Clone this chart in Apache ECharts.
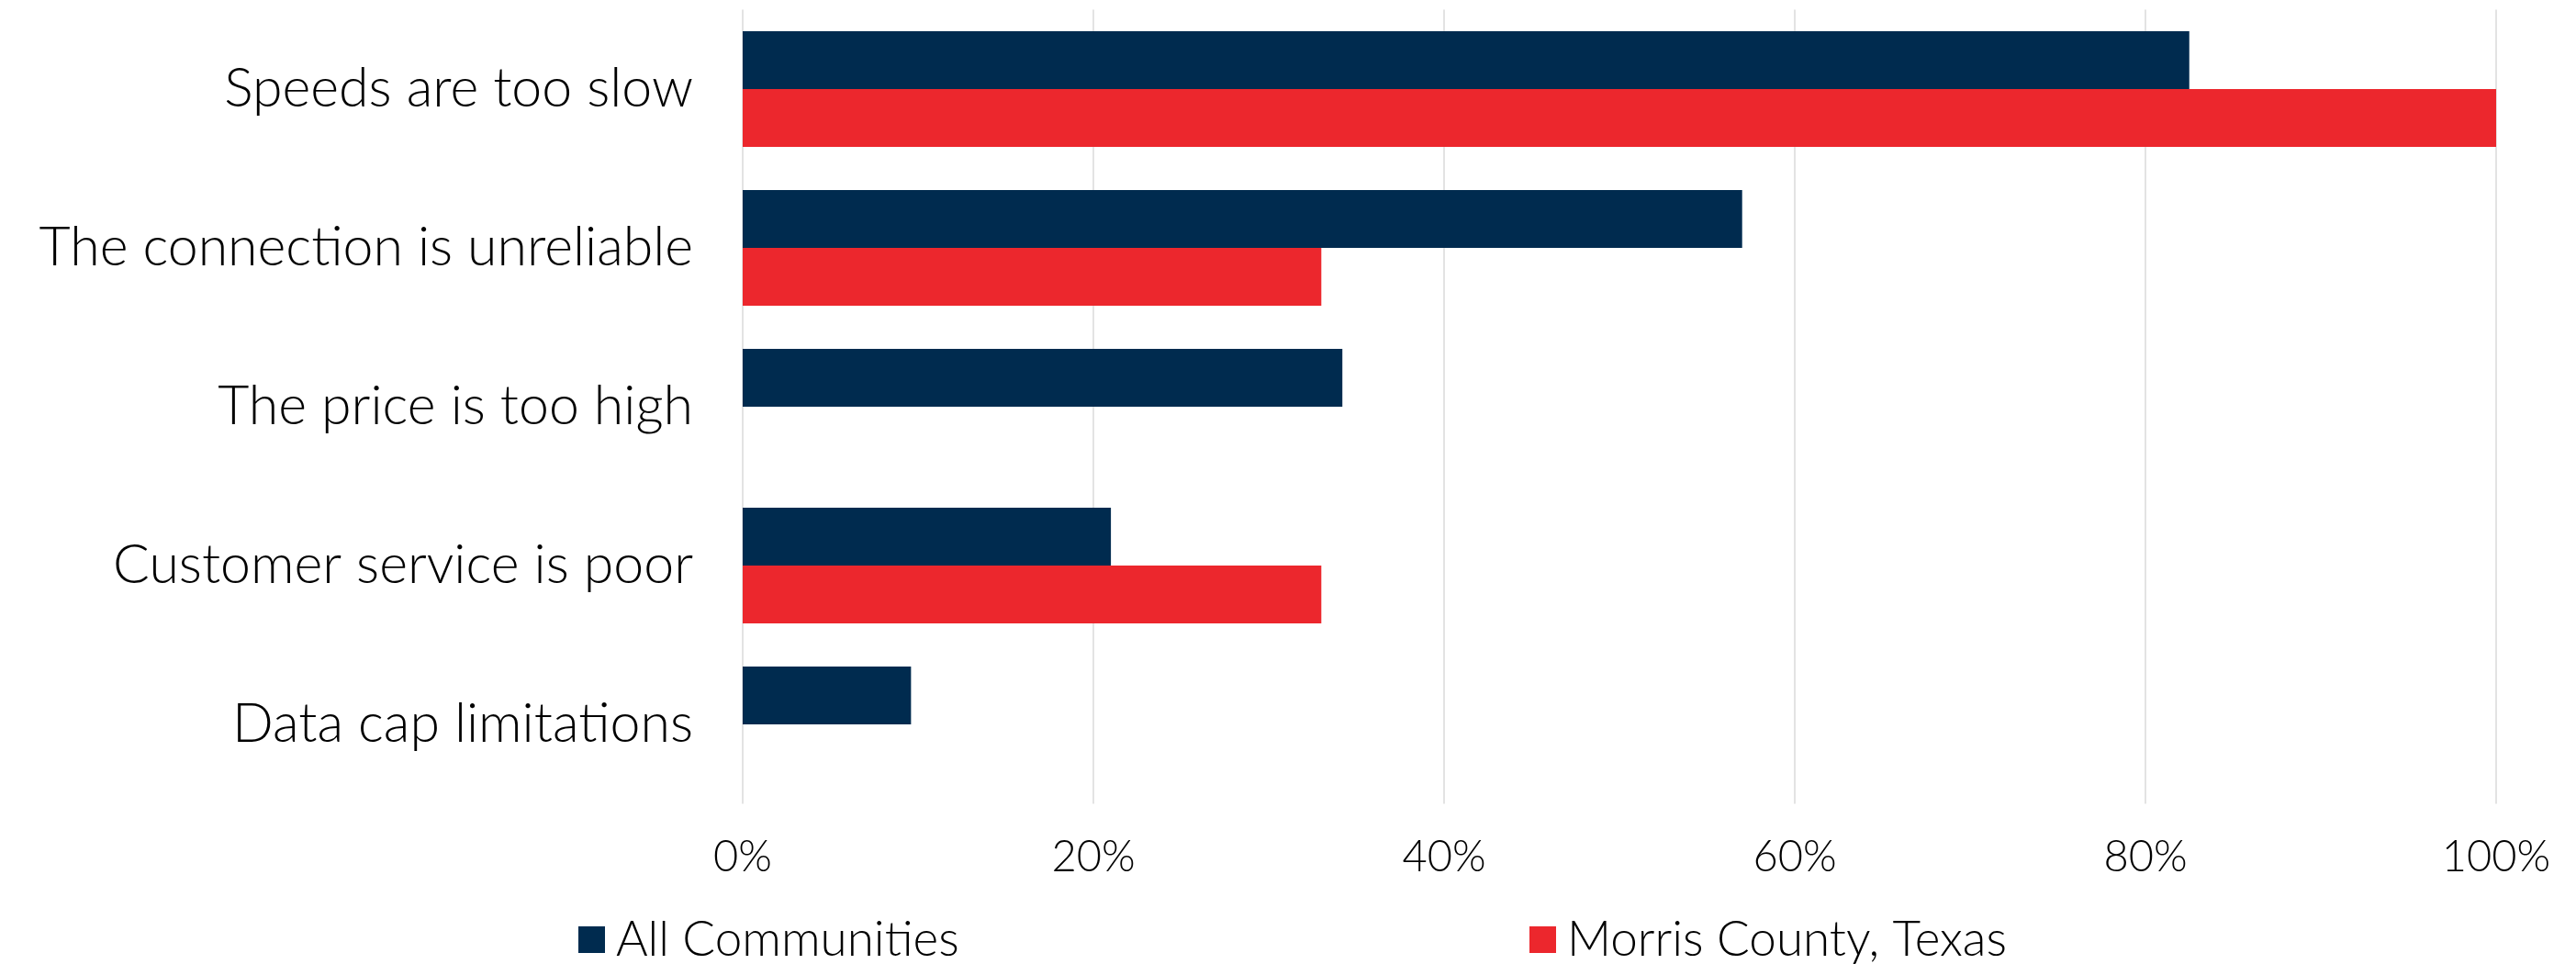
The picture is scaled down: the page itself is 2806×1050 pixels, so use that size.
<!DOCTYPE html>
<html>
<head>
<meta charset="utf-8">
<script src="https://cdn.jsdelivr.net/npm/echarts@6/dist/echarts.min.js"></script>
<style>html,body{margin:0;padding:0;background:#fff}#c{width:2806px;height:1050px}</style>
</head>
<body>
<div id="c"></div>
<script>
const categories = ["Speeds are too slow", "The connection is unreliable", "The price is too high", "Customer service is poor", "Data cap limitations"];
const allCommunities = [82.5, 57, 34.2, 21, 9.6];
const morrisCounty = [100, 33, null, 33, null];
const seriesNames = ["All Communities", "Morris County, Texas"];
const xTicks = [0, 20, 40, 60, 80, 100];

const FONT = 'Lato';
const NAVY = '#002B4F';
const RED = '#EC272D';

const chart = echarts.init(document.getElementById('c'), null, {renderer: 'canvas'});
const legendText = {fontFamily: FONT, fontSize: 53, fontWeight: 300, color: '#000', padding: [0, 0, 0, 7]};
chart.setOption({
  animation: false,
  backgroundColor: '#ffffff',
  textStyle: {fontFamily: FONT},
  grid: {left: 809, right: 87, top: 10.5, bottom: 174.5, containLabel: false},
  legend: [
    {data: [seriesNames[0]], left: 630, top: 997, padding: 0, icon: 'rect', itemWidth: 29, itemHeight: 29, textStyle: legendText},
    {data: [seriesNames[1]], left: 1666, top: 997, padding: 0, icon: 'rect', itemWidth: 29, itemHeight: 29, textStyle: legendText}
  ],
  xAxis: {
    type: 'value', min: xTicks[0], max: xTicks[xTicks.length - 1], interval: 20,
    axisLine: {show: false}, axisTick: {show: false},
    splitLine: {show: true, lineStyle: {color: '#E3E3E3', width: 2}},
    axisLabel: {formatter: v => v + '%', fontFamily: FONT, fontSize: 47, fontWeight: 300, color: '#000', margin: 35}
  },
  yAxis: {
    type: 'category', data: categories, inverse: true,
    axisLine: {show: false}, axisTick: {show: false},
    axisLabel: {fontFamily: FONT, fontSize: 59, fontWeight: 300, color: '#000', margin: 54}
  },
  series: [
    {name: seriesNames[0], type: 'bar', data: allCommunities, barWidth: 63, barGap: '0%', itemStyle: {color: NAVY}},
    {name: seriesNames[1], type: 'bar', data: morrisCounty, barWidth: 63, barGap: '0%', itemStyle: {color: RED}}
  ]
});
</script>
</body>
</html>
